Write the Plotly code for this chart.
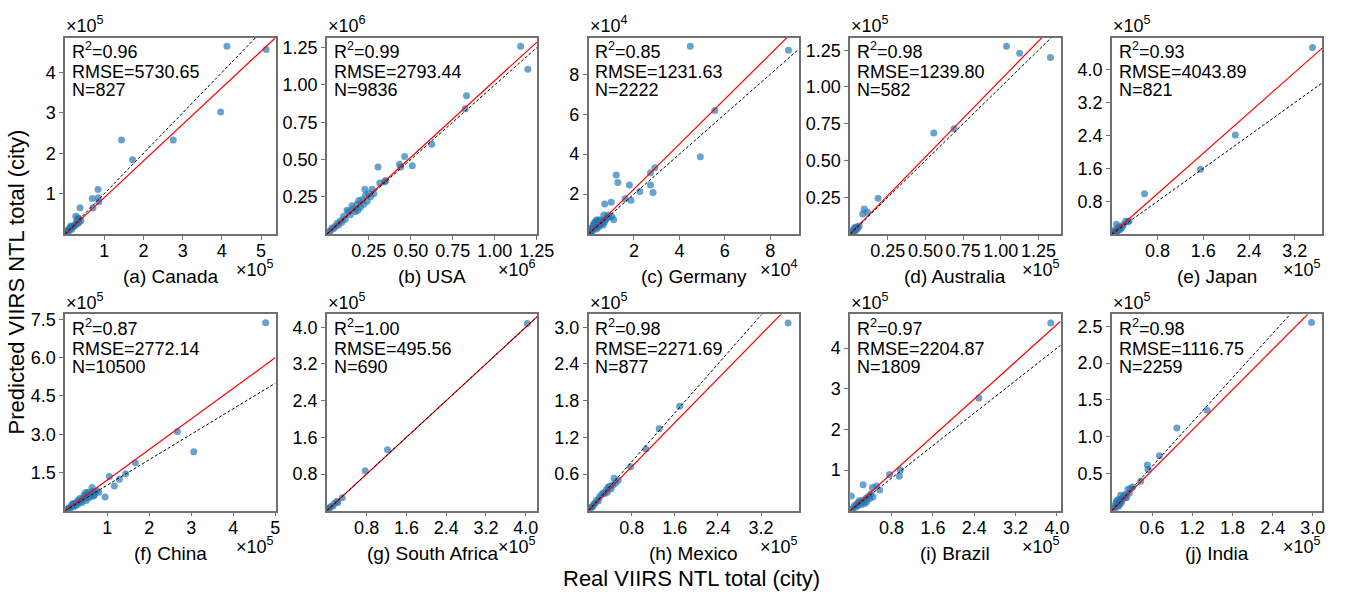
import plotly.graph_objects as go

W, H = 1357, 595

# ---------------- data ----------------
titles = ["(a) Canada", "(b) USA", "(c) Germany", "(d) Australia", "(e) Japan",
          "(f) China", "(g) South Africa", "(h) Mexico", "(i) Brazil", "(j) India"]
exponents = [5, 6, 4, 5, 5, 5, 5, 5, 5, 5]
r2_vals = ["0.96", "0.99", "0.85", "0.98", "0.93", "0.87", "1.00", "0.98", "0.97", "0.98"]
rmse_vals = ["5730.65", "2793.44", "1231.63", "1239.80", "4043.89",
             "2772.14", "495.56", "2271.69", "2204.87", "1116.75"]
n_vals = ["827", "9836", "2222", "582", "821", "10500", "690", "877", "1809", "2259"]

# axis extents (in units of 10^exponent)
x_max = [5.37, 1.253, 9.26, 1.397, 3.68, 5.005, 4.23, 3.9, 4.07, 3.14]
y_max = [4.86, 1.317, 9.83, 1.335, 4.78, 7.7, 4.28, 3.21, 4.83, 2.66]
# slope of fitted (red) line
fit_slope = [0.905, 1.029, 1.126, 1.049, 1.23, 1.2, 1.0, 0.9, 1.145, 0.91]

x_ticks = [[1, 2, 3, 4, 5], [0.25, 0.5, 0.75, 1.0, 1.25], [2, 4, 6, 8],
           [0.25, 0.5, 0.75, 1.0, 1.25], [0.8, 1.6, 2.4, 3.2],
           [1, 2, 3, 4, 5], [0.8, 1.6, 2.4, 3.2, 4.0], [0.8, 1.6, 2.4, 3.2],
           [0.8, 1.6, 2.4, 3.2, 4.0], [0.6, 1.2, 1.8, 2.4, 3.0]]
y_ticks = [[1, 2, 3, 4], [0.25, 0.5, 0.75, 1.0, 1.25], [2, 4, 6, 8],
           [0.25, 0.5, 0.75, 1.0, 1.25], [0.8, 1.6, 2.4, 3.2, 4.0],
           [1.5, 3.0, 4.5, 6.0, 7.5], [0.8, 1.6, 2.4, 3.2, 4.0], [0.6, 1.2, 1.8, 2.4, 3.0],
           [1, 2, 3, 4], [0.5, 1.0, 1.5, 2.0, 2.5]]
x_fmt = [".0f", ".2f", ".0f", ".2f", ".1f", ".0f", ".1f", ".1f", ".1f", ".1f"]
y_fmt = [".0f", ".2f", ".0f", ".2f", ".1f", ".1f", ".1f", ".1f", ".0f", ".1f"]

real_canada = [5.13, 4.13, 3.97, 2.76, 1.72, 1.44, 0.84, 0.84, 0.86, 0.69, 0.71, 0.38, 0.33, 0.27,
               0.35, 0.30, 0.25, 0.22, 0.20, 0.18, 0.15, 0.14, 0.12, 0.10, 0.08, 0.06, 0.05, 0.04,
               0.03, 0.02, 0.01, 0.28, 0.32, 0.36, 0.40, 0.17, 0.11]
pred_canada = [4.57, 4.65, 3.02, 2.33, 1.84, 2.33, 1.10, 0.90, 0.80, 0.88, 0.65, 0.65, 0.40, 0.44,
               0.28, 0.25, 0.22, 0.20, 0.19, 0.18, 0.17, 0.20, 0.15, 0.12, 0.10, 0.08, 0.06, 0.05,
               0.04, 0.03, 0.02, 0.30, 0.36, 0.38, 0.33, 0.12, 0.09]

real_usa = [1.154, 1.197, 0.832, 0.824, 0.625, 0.463, 0.509, 0.433, 0.305, 0.344, 0.315, 0.227,
            0.27, 0.25, 0.19, 0.15, 0.12, 0.44, 0.26, 0.23, 0.21, 0.22, 0.20, 0.18, 0.17, 0.16,
            0.14, 0.13, 0.11, 0.10, 0.09, 0.08, 0.07, 0.06, 0.05, 0.04, 0.03, 0.02, 0.01, 0.35,
            0.28, 0.185, 0.24]
pred_usa = [1.26, 1.105, 0.928, 0.84, 0.603, 0.52, 0.458, 0.469, 0.449, 0.35, 0.343, 0.30,
            0.30, 0.27, 0.225, 0.19, 0.16, 0.45, 0.25, 0.26, 0.23, 0.20, 0.18, 0.20, 0.15, 0.17,
            0.13, 0.15, 0.10, 0.12, 0.08, 0.09, 0.06, 0.07, 0.05, 0.035, 0.04, 0.02, 0.015, 0.36,
            0.27, 0.16, 0.22]

real_germany = [4.48, 8.8, 5.56, 4.92, 2.92, 2.73, 2.73, 2.84, 2.26, 1.8, 1.87, 1.61, 1.22, 1.29,
                1.0, 0.71, 1.11, 1.03, 0.67, 0.10, 0.15, 0.20, 0.25, 0.30, 0.35, 0.40, 0.45, 0.50,
                0.55, 0.60, 0.20, 0.30, 0.40, 0.50, 0.60, 0.70, 0.80, 0.90, 0.05, 0.10, 0.15, 0.25,
                0.35, 0.45, 0.65, 0.75, 0.85]
pred_germany = [9.4, 9.2, 6.18, 3.87, 3.32, 3.07, 2.46, 2.08, 2.13, 2.46, 1.69, 1.77, 2.96, 2.58,
                1.59, 1.51, 0.72, 0.88, 0.96, 0.10, 0.30, 0.45, 0.55, 0.62, 0.70, 0.60, 0.72, 0.65,
                0.50, 0.70, 0.20, 0.35, 0.40, 0.45, 0.55, 0.60, 0.80, 0.85, 0.08, 0.25, 0.15, 0.30,
                0.25, 0.35, 0.45, 0.70, 0.95]

real_australia = [1.038, 1.125, 1.33, 0.555, 0.69, 0.185, 0.093, 0.115, 0.083, 0.01, 0.02, 0.025,
                  0.03, 0.035, 0.04, 0.045, 0.05, 0.015, 0.06, 0.03]
pred_australia = [1.277, 1.23, 1.2, 0.687, 0.716, 0.243, 0.171, 0.149, 0.137, 0.01, 0.015, 0.03,
                  0.02, 0.04, 0.03, 0.05, 0.04, 0.025, 0.055, 0.045]

real_japan = [3.51, 2.16, 1.55, 0.57, 0.24, 0.08, 0.30, 0.28, 0.20, 0.15, 0.12, 0.10, 0.06, 0.04,
              0.02, 0.05, 0.18, 0.10, 0.13, 0.03, 0.08]
pred_japan = [4.54, 2.41, 1.575, 0.98, 0.31, 0.24, 0.32, 0.30, 0.22, 0.12, 0.10, 0.08, 0.05, 0.06,
              0.02, 0.10, 0.16, 0.15, 0.18, 0.04, 0.03]

real_china = [4.77, 2.67, 3.06, 1.67, 1.05, 1.44, 1.29, 1.17, 0.95, 0.64, 0.49, 0.75, 0.67, 0.05,
              0.10, 0.12, 0.15, 0.20, 0.20, 0.25, 0.30, 0.30, 0.35, 0.40, 0.40, 0.45, 0.50, 0.55,
              0.60, 0.60, 0.70, 0.55, 0.45, 0.35, 0.25, 0.08, 0.18, 0.50, 0.65, 0.70, 0.80]
pred_china = [7.37, 3.11, 2.31, 1.88, 1.34, 1.45, 1.23, 0.97, 0.54, 0.91, 0.71, 0.78, 0.58, 0.05,
              0.12, 0.08, 0.20, 0.25, 0.15, 0.30, 0.25, 0.40, 0.35, 0.45, 0.32, 0.50, 0.60, 0.50,
              0.65, 0.55, 0.70, 0.72, 0.62, 0.48, 0.20, 0.10, 0.28, 0.40, 0.75, 0.62, 0.72]

real_safrica = [4.03, 1.22, 0.77, 0.31, 0.20, 0.22, 0.15, 0.12, 0.08, 0.05, 0.03, 0.01]
pred_safrica = [4.08, 1.33, 0.87, 0.28, 0.20, 0.18, 0.16, 0.10, 0.09, 0.06, 0.03, 0.02]

real_mexico = [3.7, 1.69, 1.31, 1.065, 0.78, 0.475, 0.39, 0.33, 0.27, 0.50, 0.45, 0.42, 0.36,
               0.30, 0.24, 0.20, 0.18, 0.15, 0.12, 0.10, 0.08, 0.06, 0.04, 0.02, 0.55, 0.35]
pred_mexico = [3.07, 1.71, 1.34, 1.01, 0.72, 0.53, 0.40, 0.34, 0.29, 0.45, 0.42, 0.36, 0.38,
               0.28, 0.26, 0.22, 0.16, 0.17, 0.12, 0.11, 0.07, 0.06, 0.05, 0.02, 0.50, 0.30]

real_brazil = [3.88, 2.49, 0.97, 0.95, 0.76, 0.25, 0.57, 0.51, 0.43, 0.44, 0.02, 0.05, 0.10, 0.12,
               0.15, 0.20, 0.22, 0.25, 0.30, 0.32, 0.35, 0.38, 0.40, 0.18, 0.28, 0.08, 0.03, 0.15]
pred_brazil = [4.62, 2.77, 1.00, 0.85, 0.89, 0.64, 0.51, 0.61, 0.57, 0.34, 0.36, 0.05, 0.08, 0.15,
               0.12, 0.20, 0.15, 0.25, 0.30, 0.22, 0.35, 0.30, 0.42, 0.25, 0.18, 0.12, 0.03, 0.20]

real_india = [2.98, 1.42, 0.97, 0.71, 0.53, 0.54, 0.43, 0.31, 0.24, 0.13, 0.20, 0.02, 0.04, 0.05,
              0.06, 0.08, 0.10, 0.10, 0.12, 0.14, 0.16, 0.18, 0.20, 0.22, 0.26, 0.07, 0.09, 0.15,
              0.28, 0.12]
pred_india = [2.55, 1.36, 1.12, 0.745, 0.62, 0.56, 0.40, 0.32, 0.29, 0.21, 0.18, 0.02, 0.06, 0.03,
              0.10, 0.07, 0.12, 0.06, 0.15, 0.11, 0.17, 0.20, 0.22, 0.18, 0.24, 0.13, 0.15, 0.14,
              0.30, 0.09]

real_all = [real_canada, real_usa, real_germany, real_australia, real_japan,
            real_china, real_safrica, real_mexico, real_brazil, real_india]
pred_all = [pred_canada, pred_usa, pred_germany, pred_australia, pred_japan,
            pred_china, pred_safrica, pred_mexico, pred_brazil, pred_india]

# ---------------- figure ----------------
FONT = "Liberation Sans, Arial, sans-serif"
TXT = 18
FRAME = "#707070"

fig = go.Figure()
layout = dict(width=W, height=H, margin=dict(l=0, r=0, t=0, b=0, pad=0),
              paper_bgcolor="white", plot_bgcolor="white", showlegend=False,
              font=dict(family=FONT, size=TXT, color="black"))
annotations = []


def px(x):
    return x / W


def py(y):
    return 1 - y / H


stat_offsets = [13, 34.5, 53]

for i in range(10):
    row, col = divmod(i, 5)
    left = 66 + 265 * col
    right = left + 213
    top = 33 if row == 0 else 312
    bottom = top + 198
    n = i + 1
    xa = "x" if n == 1 else f"x{n}"
    ya = "y" if n == 1 else f"y{n}"
    xkey = "xaxis" if n == 1 else f"xaxis{n}"
    ykey = "yaxis" if n == 1 else f"yaxis{n}"

    common = dict(showline=True, linecolor=FRAME, linewidth=1.5, mirror=True,
                  ticks="outside", ticklen=4, tickwidth=1.2, tickcolor=FRAME,
                  showgrid=False, zeroline=False,
                  tickfont=dict(family=FONT, size=TXT, color="black"))
    layout[xkey] = dict(common, domain=[px(left), px(right)], anchor=ya,
                        range=[0, x_max[i]], tickvals=x_ticks[i], tickformat=x_fmt[i],
                        ticklabelstandoff=-4)
    layout[ykey] = dict(common, domain=[py(bottom), py(top)], anchor=xa,
                        range=[0, y_max[i]], tickvals=y_ticks[i], tickformat=y_fmt[i])

    fig.add_trace(go.Scatter(x=real_all[i], y=pred_all[i], mode="markers", xaxis=xa, yaxis=ya,
                             marker=dict(size=7, color="rgba(31,119,180,0.68)", line=dict(width=0))))
    fig.add_trace(go.Scatter(x=[0, x_max[i]], y=[0, fit_slope[i] * x_max[i]], mode="lines",
                             xaxis=xa, yaxis=ya, line=dict(color="red", width=1.2)))
    fig.add_trace(go.Scatter(x=[0, x_max[i]], y=[0, x_max[i]], mode="lines",
                             xaxis=xa, yaxis=ya,
                             line=dict(color="black", width=1, dash="3px,2px")))

    # stats text
    for k, t in enumerate([f"R<sup>2</sup>=" + r2_vals[i], "RMSE=" + rmse_vals[i], "N=" + n_vals[i]]):
        annotations.append(dict(text=t, xref="paper", yref="paper",
                                x=px(left + 5), y=py(top + stat_offsets[k]),
                                xanchor="left", yanchor="middle", showarrow=False,
                                font=dict(family=FONT, size=TXT, color="black")))
    # exponent labels
    exp_txt = "×10<sup>%d</sup>" % exponents[i]
    annotations.append(dict(text=exp_txt, xref="paper", yref="paper",
                            x=px(left - 1), y=py(top - 13), xanchor="left", yanchor="middle",
                            showarrow=False, font=dict(family=FONT, size=TXT, color="black")))
    annotations.append(dict(text=exp_txt, xref="paper", yref="paper",
                            x=px(right + 1), y=py(bottom + 35), xanchor="right", yanchor="middle",
                            showarrow=False, font=dict(family=FONT, size=TXT, color="black")))
    # panel title
    annotations.append(dict(text=titles[i], xref="paper", yref="paper",
                            x=px((left + right) / 2), y=py(bottom + 43), xanchor="center",
                            yanchor="middle", showarrow=False,
                            font=dict(family=FONT, size=19, color="black")))

annotations.append(dict(text="Predicted VIIRS NTL total (city)", xref="paper", yref="paper",
                        x=px(17), y=py(279), textangle=-90, xanchor="center", yanchor="middle",
                        showarrow=False, font=dict(family=FONT, size=22, color="black")))
annotations.append(dict(text="Real VIIRS NTL total (city)", xref="paper", yref="paper",
                        x=px(700), y=py(578), xanchor="center", yanchor="middle",
                        showarrow=False, font=dict(family=FONT, size=22, color="black")))

layout["annotations"] = annotations
fig.update_layout(**layout)
fig.write_html("out.html", config={"displayModeBar": False},
               post_script="document.body.style.margin='0';document.body.style.padding='0';")
